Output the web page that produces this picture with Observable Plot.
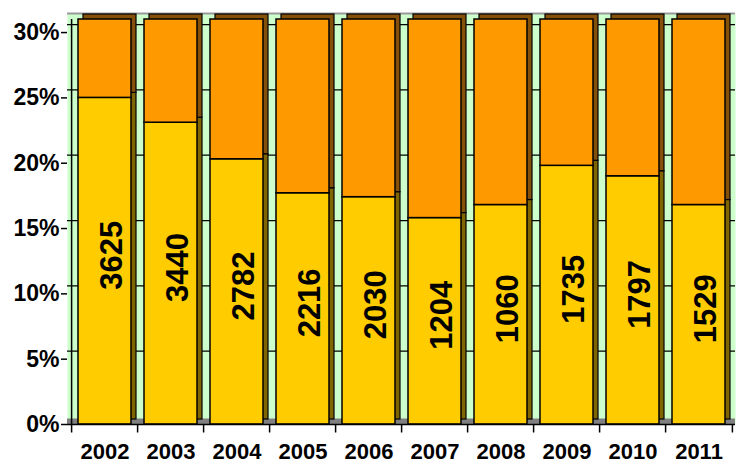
<!DOCTYPE html>
<html>
<head>
<meta charset="utf-8">
<script src="https://cdn.jsdelivr.net/npm/d3@7"></script>
<script src="https://cdn.jsdelivr.net/npm/@observablehq/plot@0.6"></script>
<style>
  html, body { margin: 0; padding: 0; background: #ffffff; }
  #chart { width: 737px; height: 464px; }
</style>
</head>
<body>
<div id="chart"></div>
<script>
// ---- data ----
const years = ["2002", "2003", "2004", "2005", "2006", "2007", "2008", "2009", "2010", "2011"];
const share = [0.250, 0.231, 0.203, 0.177, 0.174, 0.158, 0.168, 0.198, 0.190, 0.168];
const counts = [3625, 3440, 2782, 2216, 2030, 1204, 1060, 1735, 1797, 1529];
const yTicks = [0, 0.05, 0.10, 0.15, 0.20, 0.25, 0.30];
const yMax = 0.31;

const rows = years.map((year, i) => ({
  year,
  share: share[i],
  rest: 1 - share[i],
  count: counts[i]
}));

const W = 737, H = 464;
const mL = 67, mR = 2, mT = 19, mB = 40;
const half = (W - mL - mR) / years.length / 2;
const segTop = d => Math.min(d.share + d.rest, yMax);

const yellow = "#FFCC00", orange = "#FF9900";
const yellowSide = "#806600", orangeSide = "#85500A";
const wall = "#CCFFCC";

const chart = Plot.plot({
  width: W,
  height: H,
  marginLeft: mL,
  marginRight: mR,
  marginTop: mT,
  marginBottom: mB,
  style: { fontFamily: "'Liberation Sans', Arial, sans-serif", background: "#ffffff", color: "#000" },
  x: { type: "band", domain: years, paddingInner: 0.2, paddingOuter: 0.1, axis: null, label: null },
  y: { domain: [0, yMax], axis: null, label: null },
  marks: [
    // back wall
    Plot.frame({ fill: wall, insetTop: -6 }),
    Plot.ruleY([yMax], { stroke: "#999999", strokeWidth: 2, dy: -6 }),
    // gridlines on the back wall
    Plot.ruleY(yTicks.slice(1), { stroke: "#000", strokeWidth: 1.2, dy: -8 }),
    // floor
    Plot.ruleY([0], { stroke: "#808080", strokeWidth: 6, dy: -3 }),
    // depth faces
    Plot.rectY(rows, { x: "year", y1: 0, y2: "share", fill: yellowSide, stroke: "#000", strokeWidth: 1.2, dx: 5, dy: -5 }),
    Plot.rectY(rows, { x: "year", y1: "share", y2: segTop, fill: orangeSide, stroke: "#000", strokeWidth: 1.2, dx: 5, dy: -5 }),
    // front faces
    Plot.rectY(rows, { x: "year", y1: 0, y2: "share", fill: yellow, stroke: "#000", strokeWidth: 1.5 }),
    Plot.rectY(rows, { x: "year", y1: "share", y2: segTop, fill: orange, stroke: "#000", strokeWidth: 1.5 }),
    // value labels
    Plot.text(rows, {
      x: "year", y: d => d.share / 2, text: d => String(d.count),
      rotate: -90, fontSize: 31, fontWeight: "bold", fill: "#000", dx: 7, dy: -6
    }),
    // axes lines
    Plot.ruleX([years[0]], { y1: 0, y2: yMax, stroke: "#000", strokeWidth: 1.5, dx: -half }),
    Plot.ruleY([0], { stroke: "#000", strokeWidth: 1.5 }),
    // category boundary ticks
    Plot.ruleX(years, { x: d => d, y1: 0, y2: -0.0065, stroke: "#000", strokeWidth: 1.5, dx: -half }),
    Plot.ruleX([years[years.length - 1]], { y1: 0, y2: -0.0065, stroke: "#000", strokeWidth: 1.5, dx: half }),
    Plot.axisY(yTicks, {
      tickFormat: d3.format(".0%"), fontSize: 23, fontWeight: "bold",
      tickSize: 6, tickPadding: 2, strokeWidth: 1.5, label: null
    }),
    Plot.axisX({ fontSize: 22, fontWeight: "bold", tickSize: 0, tickPadding: 19, label: null })
  ]
});

document.getElementById("chart").appendChild(chart);
</script>
</body>
</html>
